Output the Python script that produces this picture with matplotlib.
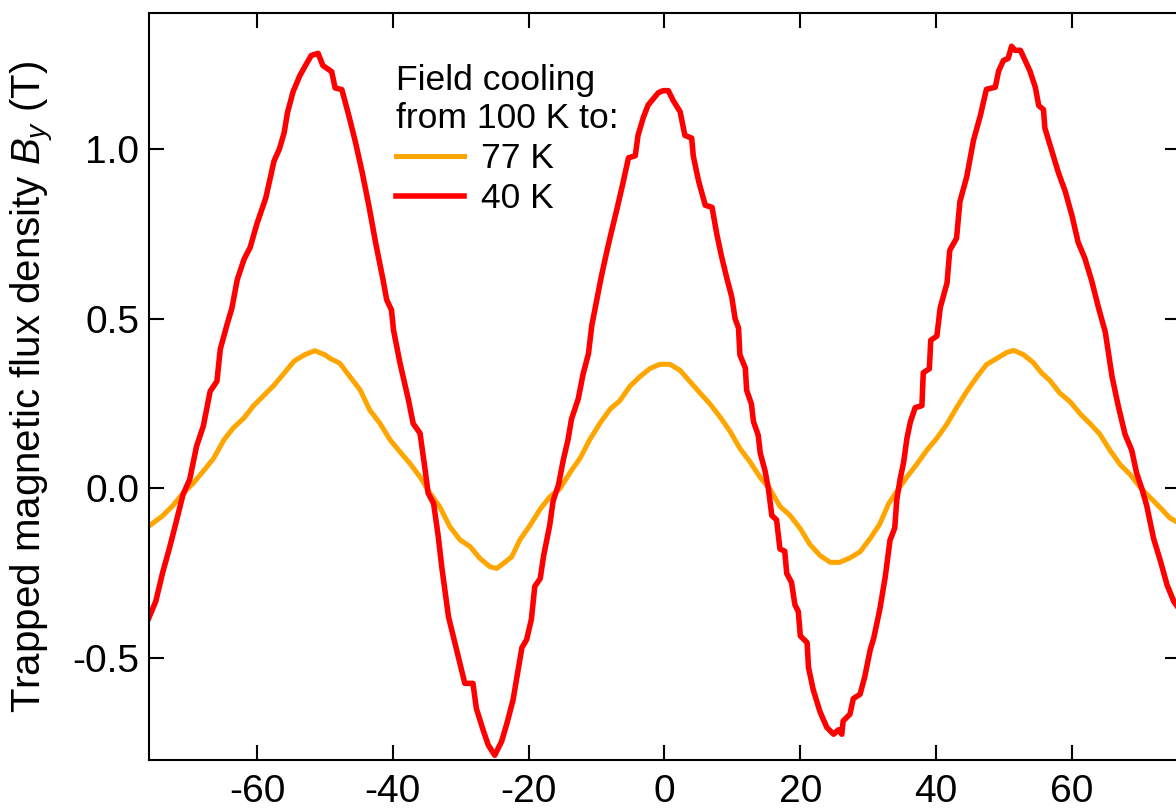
import matplotlib
matplotlib.use("Agg")
import matplotlib.pyplot as plt
from matplotlib.ticker import FormatStrFormatter

plt.rcParams["font.family"] = ["Liberation Sans", "DejaVu Sans"]
plt.rcParams["mathtext.fontset"] = "custom"
plt.rcParams["mathtext.it"] = "Liberation Sans:italic"
plt.rcParams["mathtext.rm"] = "Liberation Sans"
plt.rcParams["axes.unicode_minus"] = False

# 40 K curve
x_40K = [-75.9, -74.9, -73.9, -72.9, -71.9, -70.9, -69.9, -68.9, -67.9, -66.9,
         -65.9, -65.4, -64.4, -63.7, -62.9, -61.9, -61.0, -60.0, -58.7, -57.5,
         -56.7, -56.0, -55.5, -54.7, -53.7, -52.7, -52.0, -51.0, -50.3, -49.0,
         -48.5, -47.5, -46.5, -45.5, -44.5, -43.5, -42.5, -41.5, -40.9, -40.2,
         -39.9, -38.95, -37.7, -37.0, -36.0, -35.3, -34.8, -34.0, -33.3, -32.8,
         -31.8, -30.6, -29.4, -28.2, -27.7, -26.7, -25.95, -25.0, -24.0, -23.2,
         -22.3, -21.5, -21.0, -20.3, -19.6, -19.1, -18.3, -17.8, -16.9, -16.4,
         -15.6, -14.9, -14.2, -13.7, -12.7, -12.0, -11.2, -10.7, -10.0, -9.3,
         -8.5, -7.8, -7.0, -6.1, -5.3, -4.3, -3.9, -3.1, -2.4, -1.65,
         -0.9, -0.18, 0.56, 1.3, 2.3, 3.0, 4.0, 4.24, 5.0, 6.0,
         7.0, 7.7, 8.4, 9.2, 9.9, 10.4, 10.9, 11.1, 11.9, 12.1,
         12.8, 13.1, 13.8, 14.1, 14.8, 15.3, 15.8, 16.5, 17.0, 17.7,
         18.0, 18.7, 19.2, 19.7, 20.0, 21.0, 21.2, 21.9, 22.9, 23.9,
         24.9, 25.6, 26.1, 26.3, 27.3, 27.8, 28.8, 29.5, 30.3, 30.8,
         31.7, 32.5, 33.2, 33.9, 34.2, 34.7, 35.2, 35.7, 36.2, 36.9,
         37.9, 38.1, 39.0, 39.2, 40.1, 40.6, 41.6, 42.0, 43.0, 43.5,
         44.5, 45.5, 46.5, 47.4, 48.7, 49.2, 49.9, 50.6, 51.1, 51.6,
         52.4, 53.1, 53.8, 54.6, 55.1, 55.8, 56.0, 57.0, 58.0, 59.0,
         60.0, 60.9, 61.9, 62.9, 63.9, 64.9, 65.9, 66.8, 67.8, 68.8,
         69.5, 70.3, 71.0, 72.0, 73.0, 74.0, 75.0, 75.9]
B_40K = [-0.382, -0.334, -0.25, -0.178, -0.10, -0.02, 0.026, 0.123, 0.183, 0.285,
         0.315, 0.41, 0.483, 0.53, 0.615, 0.675, 0.71, 0.78, 0.856, 0.964,
         1.0, 1.048, 1.108, 1.168, 1.216, 1.252, 1.276, 1.282, 1.246, 1.228,
         1.18, 1.175, 1.10, 1.02, 0.93, 0.83, 0.72, 0.62, 0.555, 0.525,
         0.466, 0.369, 0.26, 0.19, 0.162, 0.062, -0.015, -0.045, -0.144, -0.232,
         -0.38, -0.478, -0.576, -0.576, -0.65, -0.714, -0.758, -0.788, -0.748, -0.694,
         -0.625, -0.531, -0.471, -0.447, -0.387, -0.29, -0.267, -0.2, -0.11, -0.038,
         0.01, 0.083, 0.143, 0.203, 0.263, 0.335, 0.396, 0.48, 0.552, 0.624,
         0.697, 0.757, 0.823, 0.901, 0.974, 0.98, 1.04, 1.094, 1.13, 1.148,
         1.166, 1.172, 1.172, 1.142, 1.11, 1.04, 1.032, 0.979, 0.907, 0.834,
         0.828, 0.749, 0.683, 0.617, 0.564, 0.499, 0.472, 0.393, 0.354, 0.288,
         0.248, 0.196, 0.156, 0.103, 0.051, -0.002, -0.081, -0.094, -0.18, -0.186,
         -0.252, -0.278, -0.344, -0.364, -0.436, -0.456, -0.529, -0.595, -0.66, -0.706,
         -0.726, -0.713, -0.726, -0.687, -0.667, -0.621, -0.608, -0.555, -0.476, -0.443,
         -0.358, -0.262, -0.154, -0.118, -0.034, 0.027, 0.075, 0.147, 0.195, 0.237,
         0.243, 0.34, 0.352, 0.436, 0.448, 0.532, 0.605, 0.701, 0.737, 0.845,
         0.918, 1.026, 1.098, 1.176, 1.182, 1.23, 1.261, 1.267, 1.303, 1.291,
         1.291, 1.261, 1.23, 1.182, 1.128, 1.116, 1.062, 0.996, 0.93, 0.875,
         0.803, 0.725, 0.677, 0.611, 0.532, 0.46, 0.328, 0.243, 0.159, 0.111,
         0.045, -0.003, -0.052, -0.148, -0.214, -0.286, -0.335, -0.36]

# 77 K curve
x_77K = [-75.9, -73.9, -72.4, -70.9, -69.4, -67.9, -66.4, -64.9, -63.5, -61.9,
         -60.5, -59.0, -57.5, -56.0, -54.5, -53.0, -51.5, -50.0, -49.3, -47.8,
         -46.3, -44.8, -43.4, -41.9, -40.4, -38.95, -37.5, -36.0, -34.5, -33.1,
         -31.6, -30.1, -28.6, -27.2, -25.7, -24.7, -23.7, -22.5, -21.3, -19.8,
         -18.3, -16.9, -15.4, -13.9, -12.4, -11.0, -9.5, -8.0, -6.6, -5.1,
         -3.6, -2.1, -0.67, 0.8, 2.3, 3.75, 5.2, 6.7, 8.2, 9.6,
         11.1, 12.6, 14.1, 15.5, 17.0, 18.5, 20.0, 21.4, 22.9, 24.4,
         25.8, 27.3, 28.8, 30.3, 31.7, 33.0, 34.2, 35.7, 37.1, 38.6,
         40.1, 41.6, 43.0, 44.5, 46.0, 47.4, 48.9, 50.4, 51.4, 52.8,
         54.3, 55.5, 56.8, 58.2, 59.7, 61.2, 62.7, 64.1, 65.6, 67.1,
         68.6, 70.0, 71.5, 73.0, 74.4, 75.9]
B_77K = [-0.112, -0.082, -0.052, -0.016, 0.014, 0.05, 0.087, 0.141, 0.177, 0.207,
         0.243, 0.273, 0.303, 0.339, 0.375, 0.393, 0.405, 0.393, 0.383, 0.368,
         0.328, 0.289, 0.230, 0.191, 0.142, 0.107, 0.073, 0.033, -0.016, -0.055,
         -0.114, -0.153, -0.173, -0.207, -0.232, -0.237, -0.222, -0.203, -0.153, -0.11,
         -0.062, -0.026, -0.002, 0.046, 0.089, 0.143, 0.191, 0.233, 0.257, 0.3,
         0.329, 0.353, 0.365, 0.365, 0.347, 0.314, 0.281, 0.248, 0.209, 0.169,
         0.117, 0.077, 0.031, -0.002, -0.054, -0.081, -0.12, -0.166, -0.199, -0.219,
         -0.219, -0.206, -0.188, -0.148, -0.106, -0.046, -0.01, 0.033, 0.069, 0.111,
         0.147, 0.189, 0.237, 0.285, 0.328, 0.364, 0.382, 0.4, 0.406, 0.394,
         0.37, 0.34, 0.316, 0.28, 0.255, 0.219, 0.189, 0.159, 0.111, 0.069,
         0.039, 0.003, -0.028, -0.058, -0.088, -0.105]

xticks = [-60, -40, -20, 0, 20, 40, 60]
yticks = [-0.5, 0.0, 0.5, 1.0]

fig = plt.figure(figsize=(11.76, 8.10), dpi=100)
ax = fig.add_axes([149 / 1176, 50 / 810, 1031 / 1176, 747 / 810])

ax.plot(x_77K, B_77K, color="#FFA500", lw=3.6, label="77 K")
ax.plot(x_40K, B_40K, color="#FF0000", lw=4.0, label="40 K")

ax.set_xlim(-75.9, 75.9)
ax.set_ylim(-0.802, 1.401)
ax.set_xticks(xticks)
ax.set_yticks(yticks)
ax.yaxis.set_major_formatter(FormatStrFormatter("%.1f"))
ax.tick_params(direction="in", length=11, width=1.5, labelsize=28,
               top=True, right=True)
ax.tick_params(axis="y", pad=7)
ax.tick_params(axis="x", pad=10)
for s in ax.spines.values():
    s.set_linewidth(1.5)

ax.set_ylabel("Trapped magnetic flux density $B_y$ (T)", fontsize=29)
ax.yaxis.set_label_coords(-0.09, 0.5)

leg = ax.legend(title="Field cooling\nfrom 100 K to:", loc="upper left",
                bbox_to_anchor=(0.24, 0.932), frameon=False, fontsize=25.5,
                title_fontsize=25.5, alignment="left", borderpad=0,
                borderaxespad=0, handlelength=1.9, handletextpad=0.5,
                labelspacing=0.2)

fig.savefig("out.png", dpi=100)
